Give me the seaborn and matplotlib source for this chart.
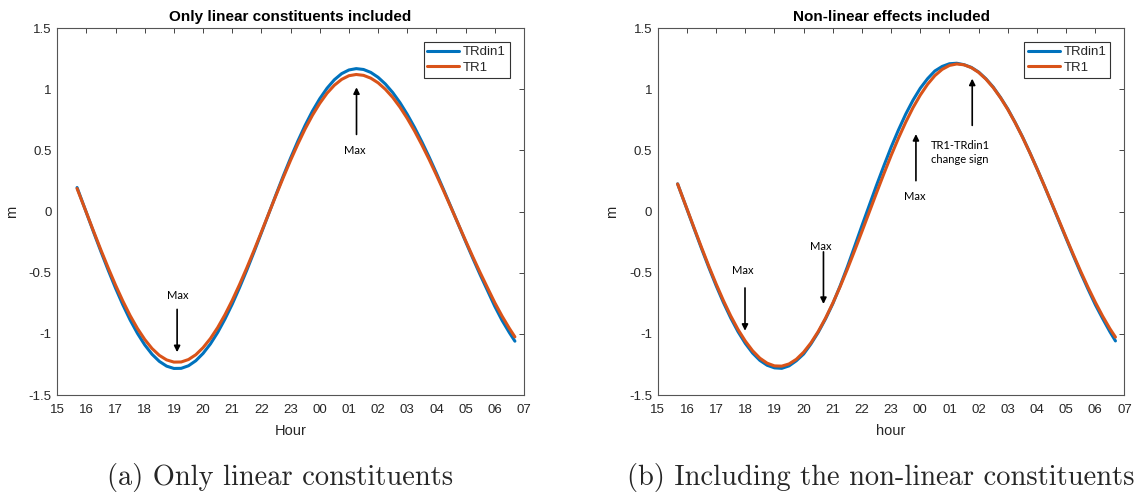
import numpy as np
import pandas as pd
import matplotlib
matplotlib.use('Agg')
import matplotlib.pyplot as plt
import seaborn as sns

# hours since 00 of the first day (values past 24 are the next morning)
hours = [15.68, 16.0, 16.25, 16.5, 16.75, 17.0, 17.25, 17.5, 17.75, 18.0,
         18.25, 18.5, 18.75, 19.0, 19.25, 19.5, 19.75, 20.0, 20.25, 20.5,
         20.75, 21.0, 21.25, 21.5, 21.75, 22.0, 22.25, 22.5, 22.75, 23.0,
         23.25, 23.5, 23.75, 24.0, 24.25, 24.5, 24.75, 25.0, 25.25, 25.5,
         25.75, 26.0, 26.25, 26.5, 26.75, 27.0, 27.25, 27.5, 27.75, 28.0,
         28.25, 28.5, 28.75, 29.0, 29.25, 29.5, 29.75, 30.0, 30.25, 30.5,
         30.69]

# (a) only linear constituents
lin_trdin1 = [0.196, -0.010, -0.171, -0.329, -0.481, -0.627, -0.763, -0.887,
              -0.996, -1.090, -1.167, -1.225, -1.264, -1.283, -1.282, -1.261,
              -1.220, -1.160, -1.083, -0.989, -0.879, -0.757, -0.622, -0.479,
              -0.329, -0.174, -0.018, 0.138, 0.291, 0.437, 0.576, 0.705,
              0.821, 0.922, 1.008, 1.077, 1.127, 1.157, 1.168, 1.161, 1.137,
              1.097, 1.042, 0.973, 0.890, 0.794, 0.687, 0.570, 0.445, 0.313,
              0.176, 0.036, -0.105, -0.246, -0.384, -0.518, -0.646, -0.775,
              -0.890, -0.990, -1.060]
lin_tr1 = [0.188, -0.009, -0.164, -0.316, -0.462, -0.602, -0.732, -0.851,
           -0.956, -1.046, -1.120, -1.176, -1.213, -1.231, -1.230, -1.210,
           -1.171, -1.113, -1.039, -0.949, -0.844, -0.726, -0.597, -0.460,
           -0.316, -0.167, -0.017, 0.132, 0.278, 0.419, 0.552, 0.676,
           0.787, 0.884, 0.967, 1.032, 1.080, 1.110, 1.120, 1.113, 1.090,
           1.052, 0.999, 0.933, 0.853, 0.761, 0.658, 0.545, 0.425, 0.298,
           0.167, 0.032, -0.103, -0.239, -0.372, -0.500, -0.623, -0.745,
           -0.855, -0.955, -1.025]

# (b) non-linear constituents included
nl_trdin1 = [0.226, 0.019, -0.143, -0.303, -0.458, -0.606, -0.744, -0.870,
             -0.982, -1.078, -1.157, -1.217, -1.257, -1.278, -1.282, -1.262,
             -1.220, -1.165, -1.083, -0.988, -0.878, -0.754, -0.609, -0.452,
             -0.284, -0.115, 0.050, 0.215, 0.373, 0.526, 0.666, 0.796,
             0.910, 1.008, 1.086, 1.149, 1.186, 1.208, 1.212, 1.200, 1.178,
             1.140, 1.085, 1.017, 0.932, 0.838, 0.728, 0.612, 0.484, 0.350,
             0.211, 0.068, -0.077, -0.221, -0.364, -0.503, -0.635, -0.762,
             -0.875, -0.983, -1.058]
nl_tr1 = [0.225, 0.022, -0.137, -0.294, -0.447, -0.592, -0.728, -0.853,
          -0.964, -1.059, -1.138, -1.199, -1.240, -1.262, -1.264, -1.246,
          -1.208, -1.150, -1.074, -0.981, -0.872, -0.749, -0.615, -0.471,
          -0.319, -0.163, -0.005, 0.153, 0.308, 0.458, 0.599, 0.730,
          0.849, 0.952, 1.040, 1.111, 1.162, 1.194, 1.206, 1.199, 1.176,
          1.137, 1.082, 1.013, 0.930, 0.834, 0.727, 0.609, 0.483, 0.350,
          0.212, 0.071, -0.071, -0.214, -0.354, -0.490, -0.620, -0.742,
          -0.855, -0.958, -1.027]

series_names = ['TRdin1', 'TR1']
xtick_pos = list(range(15, 32))
xtick_labels = ['15', '16', '17', '18', '19', '20', '21', '22', '23',
                '00', '01', '02', '03', '04', '05', '06', '07']
ytick_pos = [-1.5, -1, -0.5, 0, 0.5, 1, 1.5]
ytick_labels = ['-1.5', '-1', '-0.5', '0', '0.5', '1', '1.5']

sns.set_style('white')
plt.rcParams['font.family'] = ['Liberation Sans', 'DejaVu Sans']
plt.rcParams['axes.unicode_minus'] = False

colors = {'TRdin1': '#0072BD', 'TR1': '#D95319'}
axcol = '#262626'


def make_df(a, b):
    return pd.DataFrame({
        'hour': hours * 2,
        'level': a + b,
        'series': [series_names[0]] * len(hours) + [series_names[1]] * len(hours),
    })


def style_axes(ax, title, xlabel):
    ax.set_xlim(15, 31)
    ax.set_ylim(-1.5, 1.5)
    ax.set_xticks(xtick_pos)
    ax.set_xticklabels(xtick_labels)
    ax.set_yticks(ytick_pos)
    ax.set_yticklabels(ytick_labels)
    ax.tick_params(direction='in', top=True, right=True, length=3.5,
                   width=0.6, color=axcol, labelcolor=axcol, labelsize=9.5)
    ax.tick_params(axis='x', pad=6.5)
    ax.tick_params(axis='y', pad=4)
    for s in ax.spines.values():
        s.set_visible(True)
        s.set_color('#555555')
        s.set_linewidth(0.8)
    ax.set_title(title, fontsize=11, fontweight='bold', pad=5, color='black')
    ax.set_xlabel(xlabel, fontsize=10.5, color=axcol, labelpad=6)
    ax.set_ylabel('m', fontsize=10.5, color=axcol, labelpad=7)
    leg = ax.legend(handles=ax.lines[:2], labels=series_names, loc='upper right',
                    bbox_to_anchor=(0.970, 0.962), borderaxespad=0,
                    fontsize=9.5, handlelength=2.4, labelspacing=0.25,
                    borderpad=0.3, handletextpad=0.3, fancybox=False,
                    framealpha=1, edgecolor='#333333')
    leg.get_frame().set_linewidth(0.8)


def arrow(ax, tail, head):
    ax.annotate('', xy=head, xytext=tail,
                arrowprops=dict(arrowstyle='-|>', color='black', lw=1.2,
                                mutation_scale=9, shrinkA=0, shrinkB=0))


def note(ax, x, y, s, ha='center'):
    ax.text(x, y, s, ha=ha, va='center', fontsize=8, family='Lato',
            color='black', linespacing=1.35)


fig = plt.figure(figsize=(11.4, 4.94), dpi=100)
ax1 = fig.add_axes([0.0502, 0.2004, 0.4094, 0.7429])
ax2 = fig.add_axes([0.5770, 0.2004, 0.4094, 0.7429])

sns.lineplot(data=make_df(lin_trdin1, lin_tr1), x='hour', y='level',
             hue='series', palette=colors, linewidth=2.2, legend=False, ax=ax1)
sns.lineplot(data=make_df(nl_trdin1, nl_tr1), x='hour', y='level',
             hue='series', palette=colors, linewidth=2.2, legend=False, ax=ax2)

style_axes(ax1, 'Only linear constituents included', 'Hour')
style_axes(ax2, 'Non-linear effects included', 'hour')

# annotations, panel (a)
arrow(ax1, (19.11, -0.80), (19.11, -1.15))
note(ax1, 19.14, -0.69, 'Max')
arrow(ax1, (25.26, 0.63), (25.26, 1.015))
note(ax1, 25.2, 0.50, 'Max')

# annotations, panel (b)
arrow(ax2, (17.99, -0.625), (17.99, -0.975))
note(ax2, 17.90, -0.484, 'Max')
arrow(ax2, (20.68, -0.33), (20.68, -0.756))
note(ax2, 20.59, -0.285, 'Max')
arrow(ax2, (23.85, 0.252), (23.85, 0.633))
note(ax2, 23.82, 0.124, 'Max')
arrow(ax2, (25.78, 0.704), (25.78, 1.086))
note(ax2, 24.35, 0.482, 'TR1-TRdin1\nchange sign', ha='left')

fig.text(280 / 1140, 1 - 477 / 494, '(a) Only linear constituents',
         ha='center', va='center', fontsize=20.5, family='cmr10')
fig.text(881 / 1140, 1 - 477 / 494, '(b) Including the non-linear constituents',
         ha='center', va='center', fontsize=20.5, family='cmr10')

fig.savefig('out.png', dpi=100)
